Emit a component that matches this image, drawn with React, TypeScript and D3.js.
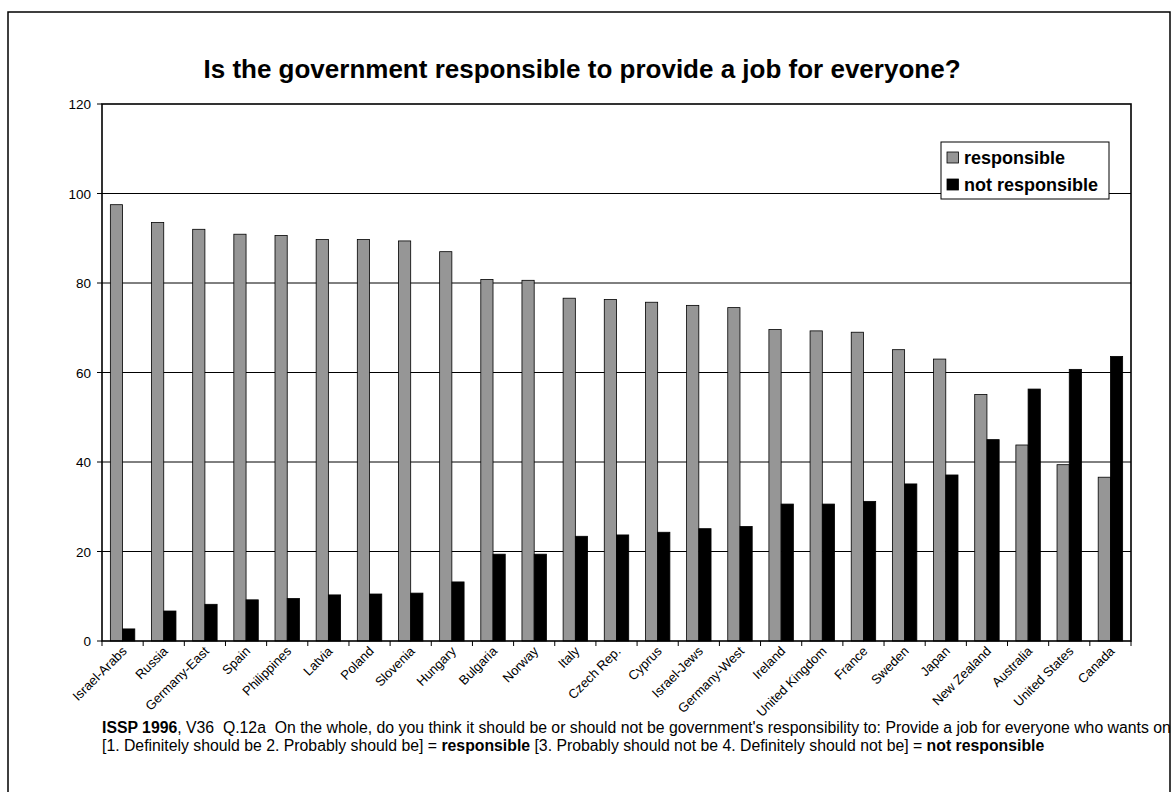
import React from "react";
import * as d3 from "d3";

const countries = ["Israel-Arabs","Russia","Germany-East","Spain","Philippines","Latvia","Poland","Slovenia","Hungary","Bulgaria","Norway","Italy","Czech Rep.","Cyprus","Israel-Jews","Germany-West","Ireland","United Kingdom","France","Sweden","Japan","New Zealand","Australia","United States","Canada"];
const responsible = [97.5,93.5,92.0,90.9,90.6,89.7,89.7,89.4,87.0,80.8,80.6,76.6,76.3,75.7,75.0,74.5,69.6,69.3,69.0,65.1,63.0,55.1,43.8,39.4,36.6];
const notResponsible = [2.7,6.7,8.2,9.2,9.5,10.3,10.5,10.7,13.2,19.4,19.4,23.4,23.7,24.3,25.1,25.6,30.6,30.6,31.2,35.1,37.1,45.0,56.3,60.7,63.6];
const yTicks = [0,20,40,60,80,100,120];
const seriesNames = ["responsible","not responsible"];
const seriesColors = ["#969696","#000000"];
const title = "Is the government responsible to provide a job for everyone?";
const note1a = "ISSP 1996";
const note1b = ", V36  Q.12a  On the whole, do you think it should be or should not be government's responsibility to: Provide a job for everyone who wants one";
const note2a = "[1. Definitely should be 2. Probably should be] = ";
const note2b = "responsible";
const note2c = " [3. Probably should not be 4. Definitely should not be] = ";
const note2d = "not responsible";

export default function App() {
  const W = 1171, H = 792;
  const left = 102, right = 1131, top = 104, bottom = 641;
  const x = d3.scaleBand<string>().domain(countries).range([left, right]).paddingInner(0).paddingOuter(0);
  const y = d3.scaleLinear().domain([0, 120]).range([bottom, top]);
  const bw = x.bandwidth();
  const barW = bw * 0.297;
  const groupOff = (bw - 2 * barW) / 2;
  const font = "Arial, 'Liberation Sans', sans-serif";
  return (
    <svg width={W} height={H} style={{ position: "absolute", left: 0, top: 0, background: "#fff" }} fontFamily={font}>
      <rect x={0} y={0} width={W} height={H} fill="#fff" />
      <rect x={8} y={12} width={1162} height={800} fill="none" stroke="#000" strokeWidth={1.5} />
      <text x={582} y={78} textAnchor="middle" fontSize={26} fontWeight="bold">{title}</text>
      {yTicks.filter(t => t > 0 && t < 120).map(t => (
        <line key={t} x1={left} x2={right} y1={y(t)} y2={y(t)} stroke="#000" strokeWidth={1} />
      ))}
      {countries.map((c, i) => {
        const x0 = (x(c) as number) + groupOff;
        return (
          <g key={c}>
            <rect x={x0} y={y(responsible[i])} width={barW} height={y(0) - y(responsible[i])} fill={seriesColors[0]} stroke="#000" strokeWidth={0.8} />
            <rect x={x0 + barW} y={y(notResponsible[i])} width={barW} height={y(0) - y(notResponsible[i])} fill={seriesColors[1]} stroke="#000" strokeWidth={0.8} />
          </g>
        );
      })}
      <rect x={left} y={top} width={right - left} height={bottom - top} fill="none" stroke="#000" strokeWidth={1.6} />
      {yTicks.map(t => (
        <g key={t}>
          <line x1={left - 5} x2={left} y1={y(t)} y2={y(t)} stroke="#000" strokeWidth={1} />
          <text x={91} y={y(t) + 5} textAnchor="end" fontSize={13.5}>{t}</text>
        </g>
      ))}
      {countries.map((c) => (
        <line key={"t" + c} x1={x(c) as number} x2={x(c) as number} y1={bottom} y2={bottom + 5} stroke="#000" strokeWidth={1} />
      ))}
      <line x1={right} x2={right} y1={bottom} y2={bottom + 5} stroke="#000" strokeWidth={1} />
      {countries.map((c) => {
        const cx = (x(c) as number) + bw / 2 + 5;
        const cy = bottom + 11;
        return (
          <text key={"l" + c} x={cx} y={cy} textAnchor="end" fontSize={13} transform={`rotate(-45 ${cx} ${cy})`}>{c}</text>
        );
      })}
      <rect x={941} y={142} width={168} height={57} fill="#fff" stroke="#000" strokeWidth={1} />
      {seriesNames.map((s, i) => (
        <g key={s}>
          <rect x={947} y={152 + i * 27} width={11.5} height={11} fill={seriesColors[i]} stroke="#000" strokeWidth={0.8} />
          <text x={964} y={164 + i * 27} fontSize={18} fontWeight="bold">{s}</text>
        </g>
      ))}
      <text x={102} y={733} fontSize={15.8} style={{ whiteSpace: "pre" }}>
        <tspan fontWeight="bold">{note1a}</tspan>
        <tspan>{note1b}</tspan>
      </text>
      <text x={102} y={751} fontSize={15.8} style={{ whiteSpace: "pre" }}>
        <tspan>{note2a}</tspan>
        <tspan fontWeight="bold">{note2b}</tspan>
        <tspan>{note2c}</tspan>
        <tspan fontWeight="bold">{note2d}</tspan>
      </text>
    </svg>
  );
}
